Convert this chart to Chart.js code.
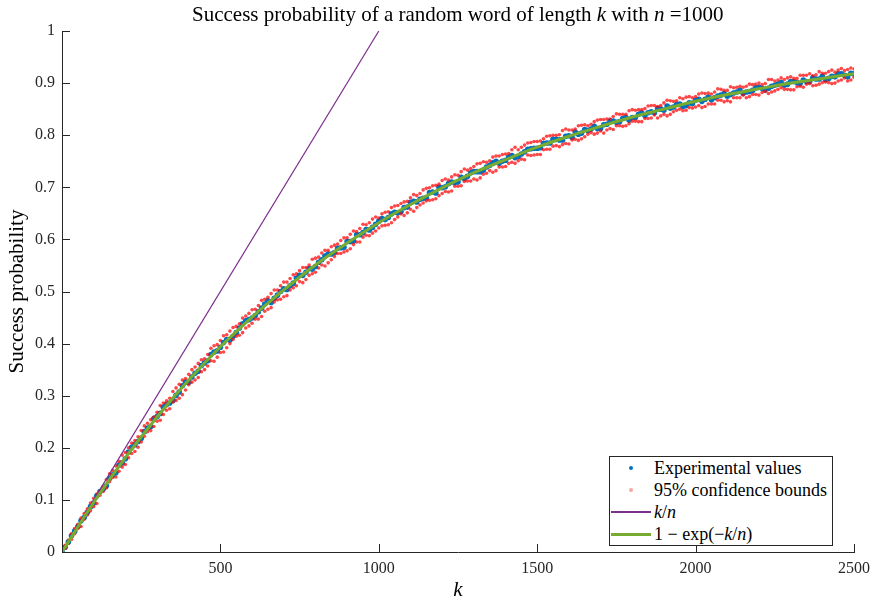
<!DOCTYPE html>
<html>
<head>
<meta charset="utf-8">
<script src="https://cdn.jsdelivr.net/npm/chart.js@4.4.1/dist/chart.umd.min.js"></script>
<style>
  html, body { margin: 0; padding: 0; background: #fff; }
  #wrap { position: relative; width: 871px; height: 597px; }
  #title { position: absolute; top: 2px; left: 0; white-space: nowrap; font-family: 'Liberation Serif', serif; font-size: 21px; color: #000; }
  #legend { position: absolute; background: #fff; border: 1px solid #262626; font-family: 'Liberation Serif', serif; font-size: 18px; color: #000; box-sizing: border-box; padding: 0 5px 0 0; }
  #legend .row { display: flex; align-items: center; height: 22px; white-space: nowrap; }
  #legend .mk { width: 40px; height: 22px; position: relative; margin-left: 1px; margin-right: 3px; flex: none; }
  #legend .dot { position: absolute; left: 18px; top: 9px; width: 4px; height: 4px; border-radius: 2px; }
  #legend .ln { position: absolute; left: 0; width: 40px; }
</style>
</head>
<body>
<div id="wrap">
  <canvas id="c" width="871" height="597"></canvas>
  <div id="title">Success probability of a random word of length <i>k</i> with <i>n</i> =1000</div>
  <div id="legend"></div>
</div>
<script>
// ---- data ----
const kGrid = [0,20,40,60,80,100,120,140,160,180,200,220,240,260,280,300,320,340,360,380,400,420,440,460,480,500,520,540,560,580,600,620,640,660,680,700,720,740,760,780,800,820,840,860,880,900,920,940,960,980,1000,1020,1040,1060,1080,1100,1120,1140,1160,1180,1200,1220,1240,1260,1280,1300,1320,1340,1360,1380,1400,1420,1440,1460,1480,1500,1520,1540,1560,1580,1600,1620,1640,1660,1680,1700,1720,1740,1760,1780,1800,1820,1840,1860,1880,1900,1920,1940,1960,1980,2000,2020,2040,2060,2080,2100,2120,2140,2160,2180,2200,2220,2240,2260,2280,2300,2320,2340,2360,2380,2400,2420,2440,2460,2480,2500];

const experimentalValues = [0.000,0.019,0.040,0.060,0.076,0.094,0.116,0.127,0.148,0.167,0.179,0.201,0.212,0.231,0.241,0.260,0.278,0.286,0.301,0.319,0.326,0.343,0.358,0.367,0.384,0.393,0.408,0.414,0.430,0.444,0.449,0.461,0.476,0.479,0.493,0.505,0.511,0.526,0.531,0.544,0.548,0.561,0.572,0.575,0.584,0.596,0.597,0.609,0.619,0.623,0.635,0.638,0.649,0.651,0.661,0.671,0.672,0.679,0.690,0.689,0.699,0.707,0.709,0.719,0.721,0.730,0.730,0.739,0.747,0.746,0.752,0.761,0.759,0.768,0.774,0.775,0.784,0.785,0.792,0.791,0.799,0.806,0.804,0.809,0.817,0.813,0.821,0.827,0.826,0.834,0.834,0.840,0.838,0.845,0.851,0.848,0.852,0.859,0.855,0.862,0.867,0.865,0.873,0.872,0.877,0.875,0.881,0.886,0.883,0.886,0.892,0.887,0.894,0.898,0.896,0.903,0.901,0.906,0.903,0.908,0.913,0.909,0.912,0.918,0.912,0.918];

const upperBound = [0.001,0.023,0.045,0.065,0.083,0.103,0.117,0.139,0.157,0.174,0.191,0.209,0.221,0.242,0.254,0.268,0.286,0.295,0.315,0.330,0.341,0.355,0.369,0.379,0.396,0.406,0.417,0.431,0.438,0.453,0.465,0.473,0.485,0.496,0.503,0.518,0.525,0.534,0.546,0.551,0.564,0.574,0.579,0.589,0.598,0.603,0.616,0.621,0.628,0.639,0.641,0.652,0.661,0.665,0.672,0.680,0.684,0.695,0.699,0.704,0.713,0.714,0.724,0.730,0.733,0.740,0.746,0.748,0.758,0.760,0.764,0.772,0.772,0.781,0.786,0.788,0.793,0.799,0.800,0.809,0.810,0.812,0.819,0.818,0.826,0.830,0.831,0.836,0.840,0.840,0.849,0.849,0.851,0.857,0.855,0.862,0.866,0.866,0.870,0.874,0.874,0.881,0.881,0.883,0.888,0.886,0.891,0.894,0.894,0.897,0.900,0.899,0.907,0.906,0.907,0.912,0.909,0.915,0.918,0.916,0.919,0.922,0.921,0.928,0.926,0.927];

const lowerBound = [0.000,0.017,0.035,0.049,0.071,0.087,0.109,0.123,0.143,0.155,0.168,0.189,0.201,0.222,0.233,0.251,0.264,0.275,0.291,0.302,0.321,0.330,0.346,0.357,0.366,0.383,0.392,0.408,0.416,0.430,0.439,0.447,0.462,0.469,0.484,0.490,0.503,0.511,0.517,0.531,0.537,0.551,0.555,0.567,0.573,0.578,0.590,0.595,0.608,0.612,0.622,0.627,0.632,0.643,0.646,0.658,0.661,0.670,0.675,0.678,0.688,0.691,0.702,0.703,0.712,0.716,0.718,0.727,0.729,0.739,0.740,0.748,0.751,0.753,0.761,0.763,0.772,0.773,0.780,0.782,0.783,0.792,0.793,0.802,0.802,0.808,0.810,0.811,0.818,0.818,0.827,0.826,0.832,0.833,0.833,0.840,0.840,0.848,0.847,0.853,0.854,0.853,0.860,0.860,0.867,0.866,0.872,0.872,0.872,0.878,0.877,0.884,0.883,0.888,0.888,0.887,0.893,0.892,0.899,0.896,0.901,0.901,0.900,0.906,0.904,0.911];

const kGridMid = [10,30,50,70,90,110,130,150,170,190,210,230,250,270,290,310,330,350,370,390,410,430,450,470,490,510,530,550,570,590,610,630,650,670,690,710,730,750,770,790,810,830,850,870,890,910,930,950,970,990,1010,1030,1050,1070,1090,1110,1130,1150,1170,1190,1210,1230,1250,1270,1290,1310,1330,1350,1370,1390,1410,1430,1450,1470,1490,1510,1530,1550,1570,1590,1610,1630,1650,1670,1690,1710,1730,1750,1770,1790,1810,1830,1850,1870,1890,1910,1930,1950,1970,1990,2010,2030,2050,2070,2090,2110,2130,2150,2170,2190,2210,2230,2250,2270,2290,2310,2330,2350,2370,2390,2410,2430,2450,2470,2490];

const experimentalValuesMid = [0.009,0.031,0.049,0.066,0.087,0.108,0.121,0.141,0.152,0.171,0.192,0.206,0.218,0.238,0.256,0.266,0.283,0.291,0.307,0.326,0.336,0.347,0.363,0.379,0.386,0.402,0.407,0.421,0.438,0.446,0.454,0.468,0.482,0.487,0.500,0.504,0.516,0.531,0.537,0.543,0.556,0.568,0.572,0.583,0.585,0.596,0.609,0.613,0.618,0.629,0.640,0.642,0.652,0.653,0.662,0.673,0.677,0.680,0.691,0.700,0.701,0.710,0.710,0.717,0.728,0.730,0.733,0.742,0.750,0.750,0.758,0.757,0.764,0.773,0.775,0.776,0.785,0.792,0.791,0.798,0.796,0.802,0.811,0.812,0.813,0.820,0.827,0.825,0.832,0.829,0.834,0.843,0.843,0.843,0.850,0.856,0.854,0.860,0.857,0.861,0.869,0.869,0.868,0.875,0.880,0.878,0.883,0.880,0.884,0.891,0.890,0.890,0.896,0.901,0.898,0.903,0.899,0.903,0.910,0.908,0.907,0.913,0.918,0.915,0.919];

const upperBoundMid = [0.013,0.035,0.053,0.074,0.094,0.111,0.126,0.150,0.165,0.186,0.200,0.214,0.233,0.247,0.259,0.281,0.290,0.308,0.322,0.333,0.350,0.362,0.371,0.391,0.398,0.415,0.424,0.433,0.449,0.458,0.466,0.483,0.489,0.503,0.511,0.518,0.532,0.540,0.546,0.562,0.566,0.579,0.586,0.591,0.603,0.610,0.615,0.629,0.632,0.643,0.649,0.653,0.664,0.669,0.673,0.686,0.688,0.698,0.703,0.706,0.716,0.720,0.723,0.735,0.736,0.745,0.749,0.751,0.760,0.763,0.765,0.777,0.777,0.785,0.788,0.789,0.798,0.800,0.801,0.812,0.810,0.818,0.820,0.821,0.829,0.830,0.831,0.841,0.840,0.847,0.848,0.849,0.856,0.857,0.857,0.867,0.865,0.872,0.873,0.872,0.879,0.880,0.879,0.889,0.886,0.893,0.892,0.892,0.898,0.898,0.897,0.907,0.904,0.910,0.910,0.909,0.915,0.915,0.914,0.922,0.919,0.925,0.925,0.924,0.929];

const lowerBoundMid = [0.007,0.024,0.045,0.063,0.079,0.093,0.116,0.135,0.144,0.163,0.181,0.193,0.211,0.231,0.241,0.253,0.272,0.288,0.295,0.311,0.326,0.335,0.350,0.367,0.374,0.384,0.400,0.414,0.421,0.434,0.447,0.452,0.466,0.480,0.485,0.492,0.507,0.519,0.523,0.534,0.545,0.549,0.561,0.573,0.576,0.582,0.595,0.604,0.607,0.616,0.626,0.628,0.638,0.649,0.651,0.654,0.666,0.674,0.676,0.684,0.692,0.693,0.702,0.711,0.712,0.714,0.725,0.732,0.732,0.739,0.746,0.746,0.754,0.762,0.762,0.763,0.773,0.779,0.778,0.784,0.791,0.790,0.797,0.805,0.804,0.804,0.813,0.818,0.817,0.822,0.827,0.826,0.832,0.839,0.837,0.837,0.845,0.850,0.848,0.852,0.857,0.855,0.860,0.867,0.864,0.864,0.872,0.877,0.874,0.878,0.882,0.880,0.885,0.891,0.888,0.887,0.894,0.898,0.895,0.898,0.902,0.899,0.904,0.910,0.906];

const curveK = [0,100,200,300,400,500,600,700,800,900,1000,1100,1200,1300,1400,1500,1600,1700,1800,1900,2000,2100,2200,2300,2400,2500];
const curveValues = [0,0.095,0.181,0.259,0.330,0.394,0.451,0.503,0.551,0.593,0.632,0.667,0.699,0.728,0.753,0.777,0.798,0.817,0.835,0.850,0.865,0.878,0.889,0.900,0.909,0.918];

const linearK = [0,1000];
const linearValues = [0,1];

const yTicks = [0,0.1,0.2,0.3,0.4,0.5,0.6,0.7,0.8,0.9,1];
const xTicks = [0,500,1000,1500,2000,2500];

// ---- build ----
const pts = (xs, ys) => xs.map((x, i) => ({x: x, y: ys[i]}));
const AXIS = '#262626';
const FONT = "'Liberation Serif', serif";
const RED = 'rgba(255,0,0,0.72)';
const BLUE = '#0072BD';

const tickMarks = {
  id: 'tickMarks',
  afterDraw(chart) {
    const ctx = chart.ctx, xs = chart.scales.x, ys = chart.scales.y, a = chart.chartArea;
    ctx.save();
    ctx.strokeStyle = AXIS; ctx.lineWidth = 1;
    ctx.beginPath();
    yTicks.forEach(v => { const p = Math.round(ys.getPixelForValue(v)) + 0.5; ctx.moveTo(a.left, p); ctx.lineTo(a.left + 8, p); });
    xTicks.forEach(v => { const p = Math.round(xs.getPixelForValue(v)) + 0.5; ctx.moveTo(p, a.bottom); ctx.lineTo(p, a.bottom - 8); });
    ctx.stroke();
    ctx.restore();
  }
};

const redSet = (lbl, xs, ys) => ({ label: lbl, data: pts(xs, ys), backgroundColor: RED, borderWidth: 0, pointRadius: 1.8, order: 2 });
const blueSet = (lbl, xs, ys) => ({ label: lbl, data: pts(xs, ys), backgroundColor: BLUE, borderWidth: 0, pointRadius: 2.8, order: 3 });

const chart = new Chart(document.getElementById('c'), {
  type: 'scatter',
  data: {
    datasets: [
      { label: '1 − exp(−k/n)', type: 'line', data: pts(curveK, curveValues), borderColor: '#77AC30', borderWidth: 3, pointRadius: 0, cubicInterpolationMode: 'monotone', fill: false, order: 0 },
      { label: 'k/n', type: 'line', data: pts(linearK, linearValues), borderColor: '#7E2F8E', borderWidth: 1.2, pointRadius: 0, fill: false, order: 1 },
      redSet('95% confidence bounds', kGrid, upperBound),
      redSet('95% confidence bounds (lower)', kGrid, lowerBound),
      redSet('95% confidence bounds (upper, odd k)', kGridMid, upperBoundMid),
      redSet('95% confidence bounds (lower, odd k)', kGridMid, lowerBoundMid),
      blueSet('Experimental values', kGrid, experimentalValues),
      blueSet('Experimental values (odd k)', kGridMid, experimentalValuesMid)
    ]
  },
  options: {
    responsive: false,
    animation: false,
    events: [],
    layout: { padding: { top: 31, right: 17, left: 0, bottom: 0 } },
    plugins: { legend: { display: false }, tooltip: { enabled: false }, title: { display: false } },
    scales: {
      x: {
        type: 'linear', min: 0, max: 2500,
        grid: { display: false, drawTicks: false, tickLength: 0 },
        border: { display: true, color: AXIS, width: 1 },
        ticks: { stepSize: 500, color: AXIS, font: { family: FONT, size: 16 }, padding: 7,
                 callback: v => v === 0 ? '' : String(v) },
        title: { display: true, text: 'k', color: '#000', font: { family: FONT, size: 21, style: 'italic', lineHeight: 0.6 }, padding: { top: 0, bottom: 0 } },
        afterFit: s => { s.height = 45; s.paddingLeft = 0; s.paddingRight = 0; }
      },
      y: {
        type: 'linear', min: 0, max: 1,
        grid: { display: false, drawTicks: false, tickLength: 0 },
        border: { display: true, color: AXIS, width: 1 },
        ticks: { stepSize: 0.1, color: AXIS, font: { family: FONT, size: 16 }, padding: 7,
                 callback: v => String(Math.round(v * 10) / 10) },
        title: { display: true, text: 'Success probability', color: '#000', font: { family: FONT, size: 21, lineHeight: 1 }, padding: { top: 7, bottom: 0 } },
        afterFit: s => { s.width = 62; s.paddingTop = 0; s.paddingBottom = 0; }
      }
    }
  },
  plugins: [tickMarks]
});

// ---- title and legend overlays positioned from the chart area ----
const a = chart.chartArea;
const t = document.getElementById('title');
t.style.left = ((a.left + a.right) / 2 - t.offsetWidth / 2) + 'px';

const legendItems = [
  { kind: 'dot', color: BLUE, html: 'Experimental values' },
  { kind: 'dot', color: 'rgba(255,90,90,0.55)', html: '95% confidence bounds' },
  { kind: 'line', color: '#7E2F8E', w: 1.2, html: '<i>k</i>/<i>n</i>' },
  { kind: 'line', color: '#77AC30', w: 3, html: '1 − exp(−<i>k</i>/<i>n</i>)' }
];
const lg = document.getElementById('legend');
legendItems.forEach(it => {
  const row = document.createElement('div'); row.className = 'row';
  const mk = document.createElement('span'); mk.className = 'mk';
  const m = document.createElement('span');
  if (it.kind === 'dot') { m.className = 'dot'; m.style.background = it.color; }
  else { m.className = 'ln'; m.style.background = it.color; m.style.height = it.w + 'px'; m.style.top = (11 - it.w / 2) + 'px'; }
  mk.appendChild(m); row.appendChild(mk);
  const tx = document.createElement('span'); tx.innerHTML = it.html; row.appendChild(tx);
  lg.appendChild(row);
});
lg.style.left = (a.right - 21 - lg.offsetWidth) + 'px';
lg.style.top = (a.bottom - 6 - lg.offsetHeight) + 'px';
</script>
</body>
</html>
